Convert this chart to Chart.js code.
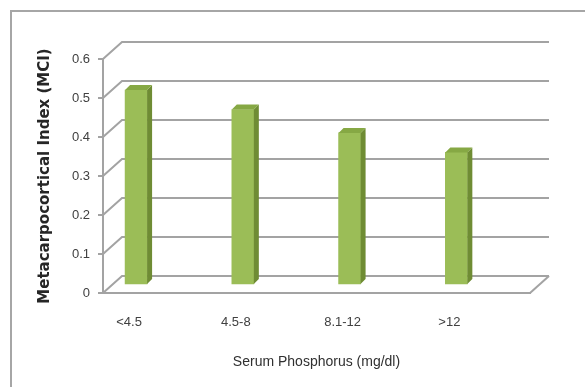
<!DOCTYPE html>
<html>
<head>
<meta charset="utf-8">
<script src="https://cdn.jsdelivr.net/npm/chart.js@4"></script>
<style>
  html, body { margin: 0; padding: 0; background: #fff; }
  #wrap { width: 585px; height: 387px; }
</style>
</head>
<body>
<div id="wrap"><canvas id="mciChart" width="585" height="387"></canvas></div>
<script>
var categories = ["<4.5", "4.5-8", "8.1-12", ">12"];
var mciValues = [0.50, 0.45, 0.39, 0.34];
var yTicks = [0, 0.1, 0.2, 0.3, 0.4, 0.5, 0.6];

// depth of the fake 3d box
var DX = 19, DY = -17;
var BAR_SHIFT = -8;

var barData = mciValues.map(function (v, i) {
    return { x: i, y: v };
});

var box3d = {
    id: 'box3d',
    beforeDraw: function (chart) {
        var ctx = chart.ctx;
        ctx.save();
        ctx.strokeStyle = "#a6a6a6";
        ctx.lineWidth = 2;
        ctx.strokeRect(11, 11, 620, 420);
        ctx.restore();
    },
    beforeDatasetsDraw: function (chart) {
        var ctx = chart.ctx;
        var y = chart.scales.y;
        var area = chart.chartArea;
        ctx.save();
        ctx.strokeStyle = "#a3a3a3";
        ctx.lineWidth = 2;
        yTicks.forEach(function (t) {
            var py = y.getPixelForValue(t);
            ctx.beginPath();
            ctx.moveTo(area.left, py);
            ctx.lineTo(area.left + DX, py + DY);
            ctx.lineTo(area.right + DX, py + DY);
            ctx.stroke();
        });
        // right edge of the floor
        var p0 = y.getPixelForValue(0);
        ctx.beginPath();
        ctx.moveTo(area.right, p0);
        ctx.lineTo(area.right + DX, p0 + DY);
        ctx.stroke();
        ctx.restore();

        ctx.save();
        ctx.translate(0, BAR_SHIFT);
    },
    afterDatasetsDraw: function (chart) {
        var ctx = chart.ctx;
        var meta = chart.getDatasetMeta(0);
        meta.data.forEach(function (bar) {
            var hw = bar.width / 2;
            var d = 5;
            // side face
            ctx.fillStyle = "#6f8c34";
            ctx.beginPath();
            ctx.moveTo(bar.x + hw, bar.y);
            ctx.lineTo(bar.x + hw + d, bar.y - d);
            ctx.lineTo(bar.x + hw + d, bar.base - d);
            ctx.lineTo(bar.x + hw, bar.base);
            ctx.closePath();
            ctx.fill();
            // top face
            ctx.fillStyle = "#86a844";
            ctx.beginPath();
            ctx.moveTo(bar.x - hw, bar.y);
            ctx.lineTo(bar.x + hw, bar.y);
            ctx.lineTo(bar.x + hw + d, bar.y - d);
            ctx.lineTo(bar.x - hw + d, bar.y - d);
            ctx.closePath();
            ctx.fill();
        });
        ctx.restore();
    }
};

var ctx = document.getElementById("mciChart").getContext('2d');

var mciChart = new Chart(ctx, {
    type: 'bar',
    data: {
        datasets: [{
            data: barData,
            backgroundColor: "#9bbd57",
            borderWidth: 0,
            barThickness: 22
        }]
    },
    plugins: [box3d],
    options: {
        responsive: false,
        animation: false,
        events: [],
        layout: {
            padding: { left: 30, right: 55, top: 59, bottom: 0 }
        },
        plugins: {
            legend: { display: false },
            tooltip: { enabled: false }
        },
        scales: {
            x: {
                type: 'linear',
                offset: false,
                min: -0.31,
                max: 3.69,
                afterBuildTicks: function (scale) {
                    scale.ticks = categories.map(function (c, i) { return { value: i }; });
                },
                afterFit: function (scale) { scale.height = 94; },
                ticks: {
                    callback: function (v) { return categories[v]; },
                    labelOffset: -7,
                    padding: 22,
                    color: "#404040",
                    maxRotation: 0,
                    font: { family: "'Liberation Sans', sans-serif", size: 13 }
                },
                grid: { drawOnChartArea: false, drawTicks: false, offset: false },
                border: { display: true, color: "#a3a3a3", width: 2 },
                title: {
                    display: true,
                    text: "Serum Phosphorus (mg/dl)",
                    color: "#303030",
                    padding: { top: 0, bottom: 16 },
                    font: { family: "'Liberation Sans', sans-serif", size: 14 }
                }
            },
            y: {
                min: 0,
                max: 0.6,
                afterBuildTicks: function (scale) {
                    scale.ticks = yTicks.map(function (t) { return { value: t }; });
                },
                afterFit: function (scale) { scale.width = 73; },
                ticks: {
                    padding: 8,
                    color: "#404040",
                    font: { family: "'Liberation Sans', sans-serif", size: 13 }
                },
                grid: { drawOnChartArea: false, drawTicks: true, tickLength: 5, color: "#a3a3a3", lineWidth: 2 },
                border: { display: true, color: "#a3a3a3", width: 2 },
                title: {
                    display: true,
                    text: "Metacarpocortical Index (MCI)",
                    color: "#262626",
                    padding: { top: 6, bottom: 0 },
                    font: { family: "'DejaVu Sans', sans-serif", size: 15, weight: 'bold' }
                }
            }
        }
    }
});
</script>
</body>
</html>
